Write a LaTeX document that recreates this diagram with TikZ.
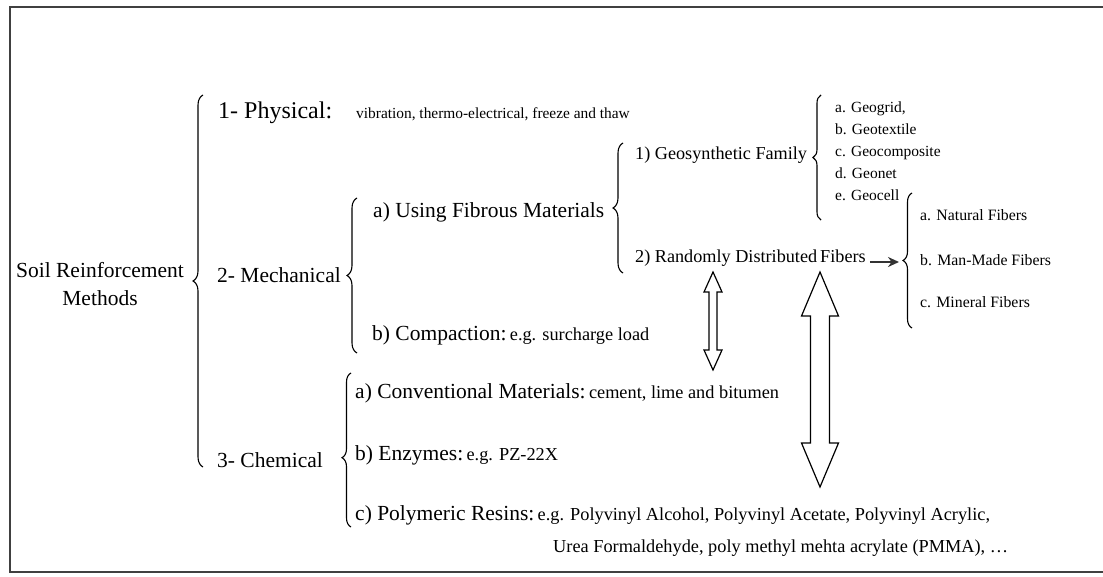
\documentclass[tikz,border=0pt]{standalone}
\usepackage{fontspec}
\setmainfont{Liberation Serif}
\usetikzlibrary{decorations.pathreplacing,arrows.meta}

\newcommand{\bigsz}{\fontsize{21.5}{28}\selectfont}
\newcommand{\physbig}{\fontsize{24}{28}\selectfont}
\newcommand{\midsz}{\fontsize{18.2}{22}\selectfont}
\newcommand{\smlsz}{\fontsize{18.3}{22}\selectfont}
\newcommand{\physsz}{\fontsize{15.4}{20}\selectfont}
\newcommand{\lstsz}{\fontsize{15.5}{22}\selectfont}
\newcommand{\fibsz}{\fontsize{15.8}{22}\selectfont}

\tikzset{
  lbl/.style={anchor=west, inner sep=0pt, text=black},
  cbrace/.style={decorate, decoration={brace, amplitude=#1}, line width=1.1pt},
  block/.style={draw, line width=1.2pt, fill=white, line join=miter},
  frame/.style={line width=2.6pt, draw=black!75}
}

\begin{document}
\begin{tikzpicture}[x=1pt, y=-1pt]
  \useasboundingbox (0,0) rectangle (1103,577);
  \draw[frame] (1103,7) -- (10,7) -- (10,572) -- (1103,572);

  \node[lbl, anchor=center, align=center, font=\bigsz] (soil) at (100,284) {Soil Reinforcement\\Methods};

  \coordinate (allT) at (203,95);
  \coordinate (allB) at (203,467);
  \draw[cbrace=10pt] (allB) -- (allT);

  \node[lbl] (phys) at (218,113) {{\physbig 1- Physical:}\hspace{24pt}{\physsz vibration, thermo-electrical, freeze and thaw}};
  \node[lbl, font=\bigsz] (mech) at (217,275) {2- Mechanical};
  \node[lbl, font=\bigsz] (chem) at (217,460) {3- Chemical};

  \coordinate (mechT) at (357,198);
  \coordinate (mechB) at (357,353);
  \draw[cbrace=10pt] (mechB) -- (mechT);

  \node[lbl, font=\bigsz] (fibrous) at (373,212) {a) Using Fibrous Materials};
  \node[lbl] (compact) at (372,335) {{\bigsz b) Compaction:} {\smlsz e.g. surcharge load}};

  \coordinate (fibT) at (623,143);
  \coordinate (fibB) at (623,273);
  \draw[cbrace=10pt] (fibB) -- (fibT);

  \node[lbl, font=\midsz] (geo) at (635,155) {1) Geosynthetic Family};
  \node[lbl, font=\midsz] (rand) at (635,258) {2) Randomly Distributed\,Fibers};

  \coordinate (geoT) at (821,95);
  \coordinate (geoB) at (821,220);
  \draw[cbrace=8pt] (geoB) -- (geoT);
  \node[lbl, align=left, font=\lstsz] (geolist) at (835,151) {a. Geogrid,\\b. Geotextile\\c. Geocomposite\\d. Geonet\\e. Geocell};

  \coordinate (randT) at (912,193);
  \coordinate (randB) at (912,328);
  \coordinate (randtip) at (899,262);
  \draw[cbrace=9pt] (randB) -- (randT);
  \node[lbl, font=\fibsz] (natural) at (920,215) {a. Natural Fibers};
  \node[lbl, font=\fibsz] (manmade) at (920,260) {b. Man-Made Fibers};
  \node[lbl, font=\fibsz] (mineral) at (920,302) {c. Mineral Fibers};
  \draw[-{Stealth[length=11pt,width=10pt]}, line width=2pt, black!80] ([xshift=4pt,yshift=-4pt]rand.east) -- (randtip);

  \coordinate (smallA) at (713,272);
  \draw[block] (smallA) -- ++(9,20) -- ++(-5,0) -- ++(0,58) -- ++(5,0) -- ++(-9,20)
    -- ++(-9,-20) -- ++(5,0) -- ++(0,-58) -- ++(-5,0) -- cycle;
  \coordinate (bigA) at (820,272);
  \draw[block] (bigA) -- ++(18.5,44) -- ++(-9,0) -- ++(0,127) -- ++(9,0) -- ++(-18.5,44)
    -- ++(-18.5,-44) -- ++(9,0) -- ++(0,-127) -- ++(-9,0) -- cycle;

  \coordinate (chemT) at (351,373);
  \coordinate (chemB) at (351,527);
  \draw[cbrace=9pt, decoration={aspect=0.45}] (chemB) -- (chemT);

  \node[lbl] (conv) at (355,393) {{\bigsz a) Conventional Materials:} {\smlsz cement, lime and bitumen}};
  \node[lbl] (enz) at (355,455) {{\bigsz b) Enzymes:} {\smlsz e.g. PZ-22X}};
  \node[lbl] (poly) at (355,515) {{\bigsz c) Polymeric Resins:} {\smlsz e.g. Polyvinyl Alcohol, Polyvinyl Acetate, Polyvinyl Acrylic,}};
  \node[lbl, font=\smlsz] (polyb) at (553,548) {Urea Formaldehyde, poly methyl mehta acrylate (PMMA), \ldots};
\end{tikzpicture}
\end{document}
